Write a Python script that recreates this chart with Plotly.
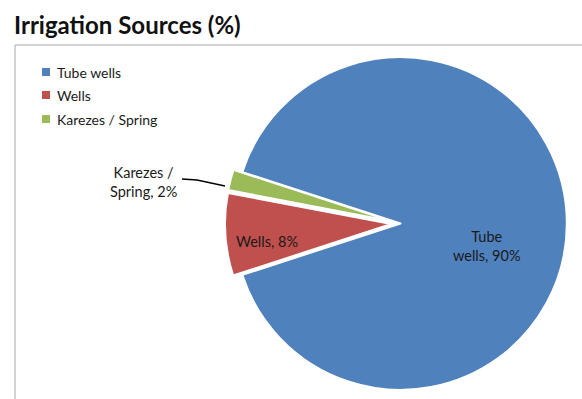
import plotly.graph_objects as go

# Irrigation sources share (%)
sources = ["Tube wells", "Wells", "Karezes / Spring"]
shares = [90, 8, 2]
colors = ["#4F81BD", "#C0504D", "#9BBB59"]
pulls = [0, 0.055, 0.055]
label_lines = [["Tube", "wells"], ["Wells"], ["Karezes /", "Spring"]]

W, H = 582, 399
FONT = "Lato"


def px(x):
    return x / W


def py(y):
    return 1 - y / H


fig = go.Figure()
fig.add_trace(go.Pie(
    labels=sources,
    values=shares,
    marker=dict(colors=colors, line=dict(color="white", width=2)),
    pull=pulls,
    sort=False,
    direction="clockwise",
    rotation=288,
    textinfo="none",
    hoverinfo="label+percent",
    showlegend=False,
    domain=dict(x=[px(225), px(576)], y=[0, py(48)]),
))

# data labels (category + value)
label_pos = [(487, 246), (267, 241), (143, 182)]
annotations = []
for lines, val, (lx, ly) in zip(label_lines, shares, label_pos):
    text = "<br>".join(lines[:-1] + [f"{lines[-1]}, {val}%"])
    annotations.append(dict(
        x=px(lx), y=py(ly), xref="paper", yref="paper",
        text=text, showarrow=False, align="center",
        xanchor="center", yanchor="middle",
        font=dict(family=FONT, size=14.5, color="#1a1a1a"),
    ))

# legend entries
shapes = []
legend_rows = [72, 95, 119]
for name, col, ry in zip(sources, colors, legend_rows):
    shapes.append(dict(
        type="rect", xref="paper", yref="paper",
        x0=px(42), x1=px(50), y0=py(ry - 4), y1=py(ry + 4),
        fillcolor=col, line=dict(width=0),
    ))
    annotations.append(dict(
        x=px(55), y=py(ry), xref="paper", yref="paper",
        text=name, showarrow=False, xanchor="left", yanchor="middle",
        font=dict(family=FONT, size=14, color="#1a1a1a"),
    ))

# leader line for the small slice label
shapes.append(dict(
    type="path", xref="paper", yref="paper",
    path=f"M {px(182)} {py(179)} L {px(197)} {py(180)} L {px(225)} {py(186)}",
    line=dict(color="black", width=1.3),
))

# chart area frame (top and left edges)
shapes.append(dict(type="line", xref="paper", yref="paper",
                   x0=px(15), x1=1, y0=py(45), y1=py(45),
                   line=dict(color="#c4c4c4", width=1.5)))
shapes.append(dict(type="line", xref="paper", yref="paper",
                   x0=px(15), x1=px(15), y0=py(45), y1=0,
                   line=dict(color="#c4c4c4", width=1.5)))

fig.update_layout(
    width=W, height=H,
    margin=dict(l=0, r=0, t=0, b=0),
    paper_bgcolor="white",
    plot_bgcolor="white",
    title=dict(
        text="<b>Irrigation Sources (%)</b>",
        x=px(14), xanchor="left", xref="paper",
        y=py(26), yanchor="middle", yref="container",
        font=dict(family=FONT, size=24, color="#111111"),
    ),
    annotations=annotations,
    shapes=shapes,
)

fig.write_html("out.html")
